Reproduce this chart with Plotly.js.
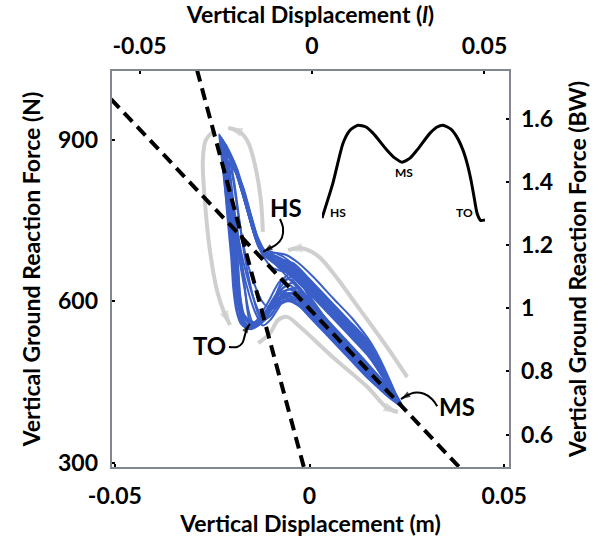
<!DOCTYPE html>
<html><head><meta charset="utf-8">
<script src="https://cdn.plot.ly/plotly-3.0.1.min.js"></script>
<style>html,body{margin:0;padding:0;background:#fff;} #chart{width:596px;height:537px;}</style>
</head><body><div id="chart"></div>
<script>
// ---------- tick values ----------
const dispTicks = [-0.05, 0, 0.05];
const dispTickText = ['-0.05', '0', '0.05'];
const legTicks = [-0.05, 0, 0.05];
const legTickText = ['-0.05', '0', '0.05'];
const forceTicks = [300, 600, 900];
const bwTicks = [0.6, 0.8, 1, 1.2, 1.4, 1.6];
const bwTickText = ['0.6', '0.8', '1', '1.2', '1.4', '1.6'];

// ---------- stance cycles: vertical displacement (m) vs vertical GRF (N) ----------
const cycA_x = [-0.0155,-0.0120,-0.0080,-0.0040,0.0000,0.0050,0.0100,0.0150,0.0200,0.0230,0.0200,0.0150,0.0100,0.0050,0.0000,-0.0040,-0.0080,-0.0125,-0.0145,-0.0165,-0.0190,-0.0228,-0.0222,-0.0212,-0.0202,-0.0192,-0.0186,-0.0178,-0.0165,-0.0155];
const cycA_f = [550,565,598,600,571,533,495,457,427,412,460,526,565,603,641,670,680,697,735,790,850,905,870,810,740,670,615,575,555,550];
const cycB_x = [-0.0148,-0.0115,-0.0080,-0.0040,0.0000,0.0050,0.0100,0.0150,0.0200,0.0225,0.0200,0.0150,0.0100,0.0050,0.0000,-0.0040,-0.0080,-0.0120,-0.0142,-0.0162,-0.0188,-0.0220,-0.0215,-0.0206,-0.0197,-0.0189,-0.0184,-0.0175,-0.0160,-0.0148];
const cycB_f = [552,570,605,607,576,538,500,461,428,415,455,516,555,593,631,658,674,692,728,780,842,890,860,800,730,665,612,572,556,552];
const cycC_x = [-0.0140,-0.0110,-0.0080,-0.0040,0.0000,0.0050,0.0100,0.0150,0.0200,0.0235,0.0200,0.0150,0.0100,0.0050,0.0000,-0.0040,-0.0080,-0.0118,-0.0138,-0.0158,-0.0185,-0.0215,-0.0210,-0.0202,-0.0193,-0.0186,-0.0181,-0.0172,-0.0155,-0.0140];
const cycC_f = [556,575,612,612,581,543,505,466,430,408,452,509,548,586,624,652,670,688,718,770,835,880,855,800,735,668,615,575,560,556];
const cycD_x = [-0.0160,-0.0135,-0.0105,-0.0075,-0.0045,-0.0020,0.0020,0.0070,0.0120,0.0170,0.0210,0.0228,0.0200,0.0150,0.0100,0.0050,0.0000,-0.0040,-0.0080,-0.0108,-0.0130,-0.0150,-0.0170,-0.0195,-0.0225,-0.0220,-0.0211,-0.0200,-0.0191,-0.0185,-0.0178,-0.0168,-0.0160];
const cycD_f = [553,565,600,638,640,615,571,532,494,456,425,410,448,501,540,578,616,645,668,688,700,745,800,860,898,875,815,745,680,625,582,560,553];
const cycE_x = [-0.0152,-0.0125,-0.0095,-0.0060,-0.0030,0.0000,0.0050,0.0100,0.0150,0.0195,0.0222,0.0200,0.0150,0.0100,0.0050,0.0000,-0.0040,-0.0080,-0.0110,-0.0128,-0.0148,-0.0170,-0.0198,-0.0232,-0.0226,-0.0216,-0.0205,-0.0196,-0.0190,-0.0182,-0.0168,-0.0152];
const cycE_f = [548,558,588,615,612,591,553,515,476,442,418,458,521,560,598,636,665,680,690,698,738,795,858,910,880,820,750,685,630,588,556,548];
const cycF_x = [-0.0135,-0.0110,-0.0085,-0.0050,-0.0020,0.0020,0.0070,0.0120,0.0170,0.0218,0.0190,0.0140,0.0090,0.0040,-0.0010,-0.0050,-0.0090,-0.0115,-0.0133,-0.0153,-0.0180,-0.0208,-0.0204,-0.0197,-0.0189,-0.0183,-0.0178,-0.0168,-0.0150,-0.0135];
const cycF_f = [560,585,612,622,610,581,542,504,466,422,448,492,531,570,609,640,670,685,710,760,825,860,840,790,725,660,610,575,563,560];
const cycG_x = [-0.0163,-0.0130,-0.0095,-0.0055,-0.0020,0.0020,0.0070,0.0120,0.0170,0.0215,0.0240,0.0205,0.0155,0.0105,0.0055,0.0005,-0.0040,-0.0080,-0.0122,-0.0142,-0.0163,-0.0190,-0.0224,-0.0224,-0.0218,-0.0210,-0.0201,-0.0196,-0.0188,-0.0176,-0.0163];
const cycG_f = [551,558,588,603,590,559,521,483,444,415,403,447,510,550,588,624,655,672,694,732,785,848,900,875,820,750,680,625,583,558,551];
const cycH_x = [-0.0145,-0.0118,-0.0088,-0.0055,-0.0025,0.0005,0.0055,0.0105,0.0155,0.0200,0.0226,0.0205,0.0160,0.0110,0.0060,0.0010,-0.0030,-0.0060,-0.0090,-0.0110,-0.0135,-0.0158,-0.0186,-0.0218,-0.0213,-0.0204,-0.0195,-0.0188,-0.0183,-0.0174,-0.0158,-0.0145];
const cycH_f = [555,568,598,622,615,585,547,509,470,436,414,455,520,568,606,645,672,686,690,690,722,775,840,885,862,805,735,670,620,580,560,555];
const cycI_x = [-0.0158,-0.0128,-0.0100,-0.0070,-0.0035,0.0000,0.0050,0.0100,0.0150,0.0200,0.0232,0.0200,0.0150,0.0100,0.0050,0.0000,-0.0040,-0.0080,-0.0122,-0.0146,-0.0168,-0.0195,-0.0230,-0.0226,-0.0218,-0.0207,-0.0198,-0.0192,-0.0184,-0.0170,-0.0158];
const cycI_f = [549,560,582,605,602,578,540,502,463,428,410,450,506,545,583,621,648,668,692,735,790,852,895,870,815,745,675,620,578,555,549];
const cycJ_x = [-0.0138,-0.0112,-0.0090,-0.0070,-0.0048,-0.0025,0.0005,0.0050,0.0100,0.0150,0.0195,0.0224,0.0200,0.0150,0.0100,0.0050,0.0000,-0.0040,-0.0075,-0.0100,-0.0120,-0.0140,-0.0160,-0.0185,-0.0212,-0.0208,-0.0200,-0.0191,-0.0184,-0.0179,-0.0170,-0.0152,-0.0138];
const cycJ_f = [558,575,605,640,652,638,600,556,518,479,444,416,457,519,558,596,634,662,680,688,690,720,770,835,875,850,795,728,665,612,575,561,558];
const cycK_x = [-0.0150,-0.0122,-0.0090,-0.0050,-0.0015,0.0025,0.0075,0.0125,0.0175,0.0229,0.0200,0.0150,0.0100,0.0050,0.0000,-0.0040,-0.0080,-0.0117,-0.0138,-0.0160,-0.0188,-0.0220,-0.0216,-0.0208,-0.0198,-0.0190,-0.0185,-0.0176,-0.0162,-0.0150];
const cycK_f = [553,566,596,614,598,564,526,488,449,411,447,499,538,576,614,642,665,687,722,778,845,892,865,808,738,672,618,578,557,553];
const cycL_x = [-0.0142,-0.0118,-0.0095,-0.0068,-0.0040,-0.0010,0.0030,0.0080,0.0130,0.0180,0.0220,0.0200,0.0150,0.0100,0.0050,0.0000,-0.0040,-0.0070,-0.0098,-0.0124,-0.0144,-0.0166,-0.0194,-0.0226,-0.0221,-0.0212,-0.0202,-0.0193,-0.0187,-0.0180,-0.0165,-0.0142];
const cycL_f = [552,563,590,625,635,612,575,536,498,459,420,458,523,562,600,638,667,684,692,698,736,792,856,903,875,818,748,682,626,585,558,552];
const cycM_x = [-0.0128,-0.0105,-0.0080,-0.0050,-0.0020,0.0030,0.0080,0.0130,0.0180,0.0220,0.0195,0.0145,0.0095,0.0045,-0.0005,-0.0045,-0.0085,-0.0110,-0.0130,-0.0150,-0.0172,-0.0200,-0.0192,-0.0180,-0.0168,-0.0155,-0.0142,-0.0128];
const cycM_f = [572,585,618,630,608,565,527,489,451,418,452,512,553,592,630,660,680,688,712,760,815,855,815,750,690,640,600,572];
const cycN_x = [-0.0145,-0.0120,-0.0098,-0.0075,-0.0050,-0.0030,0.0000,0.0050,0.0100,0.0150,0.0195,0.0226,0.0200,0.0150,0.0100,0.0050,0.0000,-0.0035,-0.0065,-0.0095,-0.0120,-0.0140,-0.0162,-0.0190,-0.0222,-0.0216,-0.0204,-0.0190,-0.0176,-0.0165,-0.0155,-0.0145];
const cycN_f = [560,572,598,626,645,640,610,560,520,481,446,414,450,508,548,588,625,650,655,662,685,720,775,842,888,855,790,720,660,615,578,560];
const cycO_x = [-0.0150,-0.0125,-0.0100,-0.0080,-0.0055,-0.0025,0.0015,0.0065,0.0115,0.0165,0.0218,0.0195,0.0145,0.0095,0.0045,-0.0005,-0.0045,-0.0085,-0.0118,-0.0138,-0.0160,-0.0186,-0.0218,-0.0212,-0.0200,-0.0186,-0.0174,-0.0166,-0.0160,-0.0150];
const cycO_f = [556,560,575,592,600,590,560,524,486,448,416,455,518,560,598,636,664,682,694,726,782,846,895,868,805,735,675,625,585,556];
const cycP_x = [-0.0120,-0.0100,-0.0078,-0.0058,-0.0032,0.0000,0.0045,0.0095,0.0145,0.0195,0.0232,0.0205,0.0155,0.0105,0.0055,0.0005,-0.0035,-0.0070,-0.0100,-0.0123,-0.0143,-0.0165,-0.0192,-0.0225,-0.0217,-0.0203,-0.0188,-0.0172,-0.0155,-0.0140,-0.0120];
const cycP_f = [555,566,590,612,618,598,560,521,483,446,410,442,497,537,576,614,642,662,678,692,728,782,846,900,862,795,725,660,612,580,555];
const cycQ_x = [-0.0108,-0.0088,-0.0065,-0.0035,0.0005,0.0055,0.0105,0.0155,0.0200,0.0225,0.0195,0.0145,0.0095,0.0045,-0.0005,-0.0045,-0.0085,-0.0115,-0.0135,-0.0155,-0.0178,-0.0205,-0.0195,-0.0183,-0.0170,-0.0155,-0.0138,-0.0122,-0.0108];
const cycQ_f = [590,600,612,605,580,542,504,465,430,415,450,506,545,583,621,650,670,688,720,770,825,870,820,760,705,660,625,600,590];
const cycR_x = [-0.0118,-0.0098,-0.0080,-0.0060,-0.0035,0.0000,0.0050,0.0100,0.0150,0.0200,0.0228,0.0200,0.0150,0.0100,0.0050,0.0000,-0.0040,-0.0080,-0.0120,-0.0140,-0.0162,-0.0188,-0.0215,-0.0205,-0.0192,-0.0178,-0.0162,-0.0146,-0.0130,-0.0118];
const cycR_f = [565,575,598,620,625,600,557,518,479,440,412,452,512,552,590,628,655,674,692,726,780,842,885,830,760,700,650,610,580,565];

// ---------- fitted stiffness lines (dashed) ----------
const fitSteep_x = [-0.0289, -0.0014];
const fitSteep_f = [1030, 290];
const fitShallow_x = [-0.0510, 0.0387];
const fitShallow_f = [976, 290];

// ---------- grey direction arrows ----------
const greyA_x = [-0.0120,-0.0125,-0.0140,-0.0158,-0.0179,-0.0209];
const greyA_f = [729,788,853,896,915,922];
const greyB_x = [-0.0243,-0.0266,-0.0274,-0.0269,-0.0256,-0.0238,-0.0220,-0.0204];
const greyB_f = [918,900,863,788,695,621,580,556];
const greyC_x = [0.0251,0.0199,0.0130,0.0060,0.0019,-0.0024,-0.0055];
const greyC_f = [459,515,584,653,686,699,695];
const greyD_x = [-0.0132,-0.0101,-0.0081,-0.0058,-0.0024,0.0060,0.0148,0.0199,0.0227];
const greyD_f = [522,541,565,571,552,496,441,402,394];

// ---------- black event pointers ----------
const hsPtr_x = [-0.0076,-0.0068,-0.0071,-0.0086,-0.0107,-0.0119];
const hsPtr_f = [753,736,718,705,697,692];
const toPtr_x = [-0.0207,-0.0186,-0.0173,-0.0166,-0.0161,-0.0153];
const toPtr_f = [515,515,522,537,549,558];
const msPtr_x = [0.0328,0.0315,0.0294,0.0268,0.0248,0.0235];
const msPtr_f = [405,418,428,430,424,418];
const eventLabels = ['HS', 'TO', 'MS'];
const eventLabel_x = [-0.0060, -0.0256, 0.0378];
const eventLabel_f = [775, 517, 405];

// ---------- inset: GRF profile over stance ----------
const inset_t = [0,6.7,12.9,17.2,22.1,27,31.3,39.9,44.8,49.1,54,58.3,66.3,70.6,74.2,79.1,82.8,86.5,89,91.4,93.3,95.1,96.3,97.2,100];
const inset_f = [0,0.376,0.806,0.946,1.0,0.98,0.914,0.731,0.645,0.602,0.645,0.731,0.914,0.98,1.0,0.957,0.871,0.731,0.591,0.409,0.226,0.054,0,-0.025,-0.02];
const insetLabels = ['HS', 'MS', 'TO'];
const insetLabel_t = [10.1, 50.6, 87.4];
const insetLabel_f = [0.06, 0.49, 0.06];

const FONT = 'Lato, "Open Sans", sans-serif';
const BLUE = '#3b5fc8';
const GREY = '#cfcfcf';

const traces = [];
function pathWithHead(xs, ys, color, width, headSize) {
  const n = xs.length;
  const sizes = xs.map((_, i) => i === n - 1 ? headSize : 0);
  return {
    x: xs, y: ys, mode: 'lines+markers', type: 'scatter',
    line: {color: color, width: width, shape: 'spline', smoothing: 1},
    marker: {symbol: 'arrow', size: sizes, color: color, angleref: 'previous', line: {width: 0}},
    hoverinfo: 'skip', showlegend: false
  };
}

traces.push(pathWithHead(greyA_x, greyA_f, GREY, 4, 15));
traces.push(pathWithHead(greyB_x, greyB_f, GREY, 4, 15));
traces.push(pathWithHead(greyC_x, greyC_f, GREY, 4, 15));
traces.push(pathWithHead(greyD_x, greyD_f, GREY, 4, 15));

const cycles = [[cycA_x,cycA_f],[cycB_x,cycB_f],[cycC_x,cycC_f],[cycD_x,cycD_f],
                [cycE_x,cycE_f],[cycF_x,cycF_f],[cycG_x,cycG_f],[cycH_x,cycH_f],
                [cycI_x,cycI_f],[cycJ_x,cycJ_f],[cycK_x,cycK_f],[cycL_x,cycL_f],
                [cycM_x,cycM_f],[cycN_x,cycN_f],[cycO_x,cycO_f],[cycP_x,cycP_f],
                [cycQ_x,cycQ_f],[cycR_x,cycR_f]];
cycles.forEach(c => traces.push({
  x: c[0], y: c[1], mode: 'lines', type: 'scatter',
  line: {color: BLUE, width: 2, shape: 'spline', smoothing: 0.7},
  hoverinfo: 'skip', showlegend: false
}));

[[fitSteep_x, fitSteep_f], [fitShallow_x, fitShallow_f]].forEach(l => traces.push({
  x: l[0], y: l[1], mode: 'lines', type: 'scatter',
  line: {color: 'black', width: 4, dash: '12px,7px'},
  hoverinfo: 'skip', showlegend: false
}));

traces.push(pathWithHead(hsPtr_x, hsPtr_f, 'black', 2, 10));
traces.push(pathWithHead(toPtr_x, toPtr_f, 'black', 2, 10));
traces.push(pathWithHead(msPtr_x, msPtr_f, 'black', 2, 10));

traces.push({x: [legTicks[1]], y: [bwTicks[2]], xaxis: 'x2', yaxis: 'y2', mode: 'markers',
  marker: {opacity: 0}, hoverinfo: 'skip', showlegend: false});

traces.push({x: inset_t, y: inset_f, xaxis: 'x3', yaxis: 'y3', mode: 'lines', type: 'scatter',
  line: {color: 'black', width: 3, shape: 'spline', smoothing: 0.6}, hoverinfo: 'skip', showlegend: false});

const tickFont = {family: FONT, size: 23, color: 'black', weight: 'bold'};
const titleFont = {family: FONT, size: 23, color: 'black', weight: 'bold'};
const common = {ticks: 'inside', ticklen: 4, tickwidth: 2, tickcolor: 'black', showgrid: false,
  zeroline: false, showline: false, tickfont: tickFont, tickmode: 'array'};

const annotations = [];
eventLabels.forEach((t, i) => annotations.push({x: eventLabel_x[i], y: eventLabel_f[i], xref: 'x', yref: 'y',
  text: t, showarrow: false, font: {family: FONT, size: 24, color: 'black', weight: 'bold'}}));
insetLabels.forEach((t, i) => annotations.push({x: insetLabel_t[i], y: insetLabel_f[i], xref: 'x3', yref: 'y3',
  text: t, showarrow: false, font: {family: FONT, size: 12, color: 'black', weight: 'bold'}}));

const layout = {
  width: 596, height: 537,
  margin: {l: 111, r: 86, t: 70, b: 69, pad: 0},
  paper_bgcolor: 'white', plot_bgcolor: 'rgba(0,0,0,0)',
  showlegend: false,
  font: {family: FONT, size: 20, color: 'black'},
  xaxis: Object.assign({}, common, {range: [-0.051, 0.0515], tickvals: dispTicks, ticktext: dispTickText,
    ticklabelstandoff: 12, title: {text: 'Vertical Displacement (m)', font: titleFont, standoff: 18}}),
  xaxis2: Object.assign({}, common, {overlaying: 'x', side: 'top', anchor: 'y', range: [-0.05826, 0.0574],
    tickvals: legTicks, ticktext: legTickText, ticklabelstandoff: 10,
    title: {text: 'Vertical Displacement (<i>l</i>)', font: titleFont, standoff: 2}}),
  yaxis: Object.assign({}, common, {range: [290, 1030], tickvals: forceTicks, ticktext: forceTicks.map(String),
    ticklabelstandoff: 12, title: {text: 'Vertical Ground Reaction Force (N)', font: titleFont, standoff: 10}}),
  yaxis2: Object.assign({}, common, {overlaying: 'y', side: 'right', anchor: 'x', range: [0.494, 1.755],
    tickvals: bwTicks, ticktext: bwTickText, ticklabelstandoff: 10,
    title: {text: 'Vertical Ground Reaction Force (BW)', font: titleFont, standoff: 17}}),
  xaxis3: {domain: [0.5288, 0.9373], anchor: 'y3', range: [0, 100], visible: false, fixedrange: true},
  yaxis3: {domain: [0.618, 0.874], anchor: 'x3', range: [-0.043, 1.054], visible: false, fixedrange: true},
  shapes: [{type: 'rect', xref: 'paper', yref: 'paper', x0: 0, x1: 1, y0: 0, y1: 1,
    line: {color: '#82878f', width: 2}, layer: 'above'}],
  annotations: annotations
};

Plotly.newPlot('chart', traces, layout, {staticPlot: true, displayModeBar: false});
</script>
</body></html>
